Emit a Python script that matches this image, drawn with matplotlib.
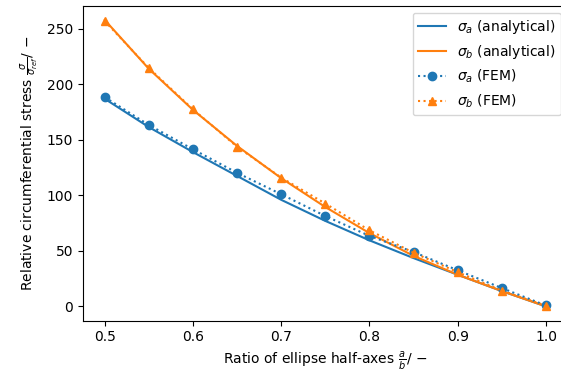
#!/usr/bin/env python3
"""Relative circumferential stress at an elliptic hole: analytical vs. FEM."""

import matplotlib

matplotlib.use("Agg")
import matplotlib.pyplot as plt

# ratio of half-axes a/b
ratio = [0.5, 0.55, 0.6, 0.65, 0.7, 0.75, 0.8, 0.85, 0.9, 0.95, 1.0]

# analytical solution
sigma_a_analytical = [187.0, 161.5, 139.0, 117.5, 96.0, 77.0, 59.5, 43.5, 28.5, 13.8, 0.0]
sigma_b_analytical = [258.0, 214.0, 177.0, 144.5, 115.5, 89.5, 66.0, 45.5, 28.5, 13.8, 0.0]

# FEM results
sigma_a_fem = [188.5, 163.4, 141.5, 120.3, 101.0, 81.4, 63.5, 49.0, 32.5, 16.5, 0.8]
sigma_b_fem = [257.0, 214.7, 177.5, 143.8, 116.0, 92.6, 68.5, 48.3, 30.8, 14.2, 0.6]

W, H, DPI = 561, 374, 100
fig = plt.figure(figsize=(W / DPI, H / DPI), dpi=DPI)
# the right spine sits just outside the saved picture, as in the reference
ax = fig.add_axes([82.7 / W, 1 - 320.7 / H, (568 - 82.7) / W, (320.7 - 5.7) / H])

ax.plot(ratio, sigma_a_analytical, color="C0", label=r"$\sigma_a$ (analytical)")
ax.plot(ratio, sigma_b_analytical, color="C1", label=r"$\sigma_b$ (analytical)")
ax.plot(ratio, sigma_a_fem, ":o", color="C0", label=r"$\sigma_a$ (FEM)")
ax.plot(ratio, sigma_b_fem, ":^", color="C1", label=r"$\sigma_b$ (FEM)")

ax.set_xlabel(r"Ratio of ellipse half-axes $\frac{a}{b}$/ $-$")
ax.set_ylabel(r"Relative circumferential stress $\frac{\sigma}{\sigma_{ref}}$/ $-$")
ax.legend(loc="upper right")

fig.savefig("out.png", dpi=DPI)
